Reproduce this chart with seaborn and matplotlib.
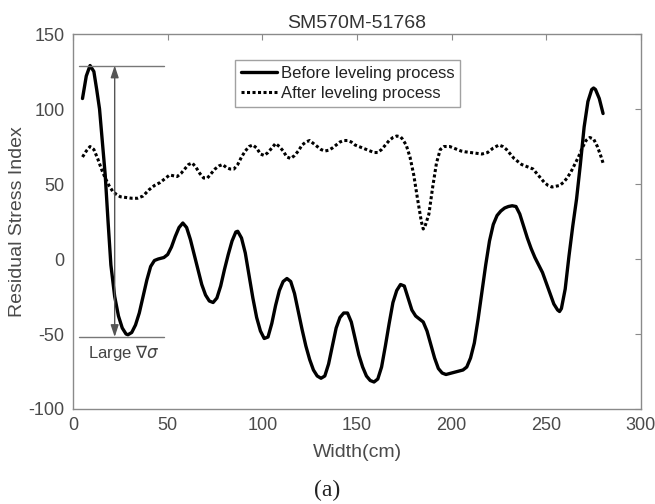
import matplotlib
matplotlib.use("Agg")
import matplotlib.pyplot as plt
import seaborn as sns
import pandas as pd

# Before leveling process
before_x = [5, 7, 9, 11, 12.5, 14, 15.5, 17, 18.5, 20, 22, 24, 26, 28, 29, 31, 33, 35, 37, 39, 41, 43,
            45, 48, 50, 52, 54, 56, 58, 60, 62, 64, 66, 68, 70, 72, 74, 76, 78, 80, 82, 84, 86, 87,
            89, 91, 93, 95, 97, 99, 101, 103, 105, 107, 109, 111, 113, 115, 117, 119, 121, 123, 125,
            127, 129, 131, 133, 135, 137, 139, 141, 143, 145, 147, 149, 151, 153, 155, 157, 159, 161,
            163, 165, 167, 169, 171, 173, 175, 177, 179, 181, 183, 185, 187, 189, 191, 193, 195, 197,
            200, 203, 206, 208, 210, 212, 214, 216, 218, 220, 222, 224, 226, 228, 230, 232, 234, 236,
            238, 240, 242, 244, 246, 248, 250, 252, 254, 256, 257, 258, 260, 262, 264, 266, 268, 270,
            272, 274, 275, 276, 278, 280]
before_y = [107, 122, 129, 125, 113, 100, 78, 56, 25, -4, -25, -38, -46, -50, -50.5, -49, -44, -36, -25,
            -14, -5, -1, 0, 1, 3, 8, 15, 21, 24, 21, 13, 3, -7, -17, -24, -28, -29, -26, -18, -7, 3,
            12, 18, 18.5, 14, 4, -11, -26, -39, -48, -53, -52, -43, -31, -21, -15, -13, -15, -23, -35,
            -47, -58, -67, -74, -78, -79.5, -78, -70, -58, -46, -39, -36, -36, -42, -53, -64, -72, -78,
            -81, -82, -80, -72, -58, -43, -29, -21, -17, -18, -26, -34, -38, -40, -42, -48, -57, -66,
            -73, -76, -77, -76, -75, -74, -72, -66, -56, -40, -22, -4, 12, 23, 29, 32, 34, 35, 35.5,
            35, 30, 22, 14, 7, 1, -4, -9, -16, -23, -30, -34, -35, -33, -20, 2, 22, 40, 63, 88, 105,
            113, 114, 113, 107, 97]

# After leveling process
after_x = [5, 7, 9, 11, 13, 15, 17, 19, 21, 23, 25, 28, 31, 34, 37, 40, 43, 46, 49, 51, 53, 55, 57, 59,
           61, 63, 65, 67, 69, 71, 73, 75, 77, 79, 81, 83, 85, 87, 89, 91, 93, 95, 97, 99, 101, 103,
           105, 107, 109, 111, 113, 115, 117, 119, 121, 123, 125, 127, 129, 131, 133, 135, 137, 139,
           141, 143, 145, 147, 149, 151, 153, 155, 157, 159, 161, 163, 165, 167, 169, 171, 173, 174,
           176, 178, 180, 182, 184, 185, 186, 188, 190, 192, 194, 196, 199, 201, 203, 205, 207, 210,
           213, 216, 219, 222, 225, 227, 229, 231, 233, 235, 237, 239, 241, 243, 245, 247, 249, 251,
           253, 255, 257, 259, 261, 263, 265, 267, 269, 271, 273, 275, 277, 279, 280]
after_y = [68, 72, 75, 73, 67, 60, 54, 49, 45, 43, 41.5, 41, 40.5, 40.5, 42, 46, 49, 51, 54, 56, 55.5,
           55, 57, 60, 63, 64, 61, 57, 54, 54, 57, 60, 62, 63, 61, 60, 60, 63, 68, 72, 75, 76, 74, 70,
           69, 71, 74, 77, 75, 72, 68, 67, 69, 72, 76, 78, 79, 77, 75, 73, 72, 72.5, 74, 76, 78, 79,
           79, 78, 76, 75, 74, 73, 72, 71, 71, 73, 76, 79, 81, 82, 81.5, 80, 76, 68, 56, 40, 25, 20,
           22, 30, 48, 64, 73, 75, 75, 74, 73, 72, 71.5, 71, 70.5, 70, 71, 74, 76, 75, 73, 70, 67, 65,
           63, 62, 61, 60, 57, 54, 51, 49, 48, 48.5, 49, 51, 54, 58, 63, 68, 74, 79, 81, 80, 75, 68, 64]

series_labels = ["Before leveling process", "After leveling process"]
title_text = "SM570M-51768"
x_ticks = [0, 50, 100, 150, 200, 250, 300]
y_ticks = [-100, -50, 0, 50, 100, 150]

df_before = pd.DataFrame({"x": before_x, "y": before_y})
df_after = pd.DataFrame({"x": after_x, "y": after_y})

sns.set_theme(style="white")
plt.rcParams["font.family"] = ["Liberation Sans", "DejaVu Sans"]
plt.rcParams["mathtext.fontset"] = "dejavusans"
plt.rcParams["axes.unicode_minus"] = False

fig = plt.figure(figsize=(6.55, 5.04), dpi=100)
ax = fig.add_axes([0.1115, 0.1885, 0.867, 0.744])

sns.lineplot(data=df_before, x="x", y="y", ax=ax, sort=False, estimator=None,
             color="black", linewidth=2.4, label=series_labels[0])
sns.lineplot(data=df_after, x="x", y="y", ax=ax, sort=False, estimator=None,
             color="black", linewidth=2.2, linestyle=(0, (1, 0.8)), label=series_labels[1])

ax.set_xlim(0, 300)
ax.set_ylim(-100, 150)
ax.set_xticks(x_ticks)
ax.set_yticks(y_ticks)
gray = "#8a8a8a"
for s in ax.spines.values():
    s.set_color(gray)
    s.set_linewidth(1.0)
    s.set_visible(True)
ax.tick_params(direction="in", length=4, width=0.8, color=gray, top=True, right=True,
               labelsize=13, labelcolor="#4a4a4a", pad=6)
ax.set_xlabel("Width(cm)", fontsize=14, color="#4a4a4a", labelpad=7)
ax.set_ylabel("Residual Stress Index", fontsize=14, color="#4a4a4a", labelpad=2)
ax.set_title(title_text, fontsize=14, color="#333333", pad=4)

# annotation lines
ax.plot([3, 48], [129, 129], color="#777777", linewidth=1.0)
ax.plot([3, 48], [-52, -52], color="#777777", linewidth=1.0)
ax.annotate("", xy=(22, 129), xytext=(22, -52),
            arrowprops=dict(arrowstyle="<|-|>,head_length=0.6,head_width=0.2",
                            color="#555555", lw=1.0, shrinkA=0, shrinkB=0))
ax.text(8, -63, r"Large $\nabla\sigma$", fontsize=12, color="#444444", va="center", ha="left")

leg = ax.legend(loc="upper left", bbox_to_anchor=(0.285, 0.93), fontsize=12, frameon=True,
                fancybox=False, edgecolor=gray, handlelength=2.2, handletextpad=0.2,
                borderpad=0.35, labelspacing=0.3, borderaxespad=0)
leg.get_frame().set_linewidth(1.0)
for t in leg.get_texts():
    t.set_color("#222222")

fig.text(0.5, 0.027, "(a)", ha="center", va="center", fontsize=17,
         family=["Liberation Serif", "DejaVu Serif"], color="#222222")

fig.savefig("out.png", dpi=100)
